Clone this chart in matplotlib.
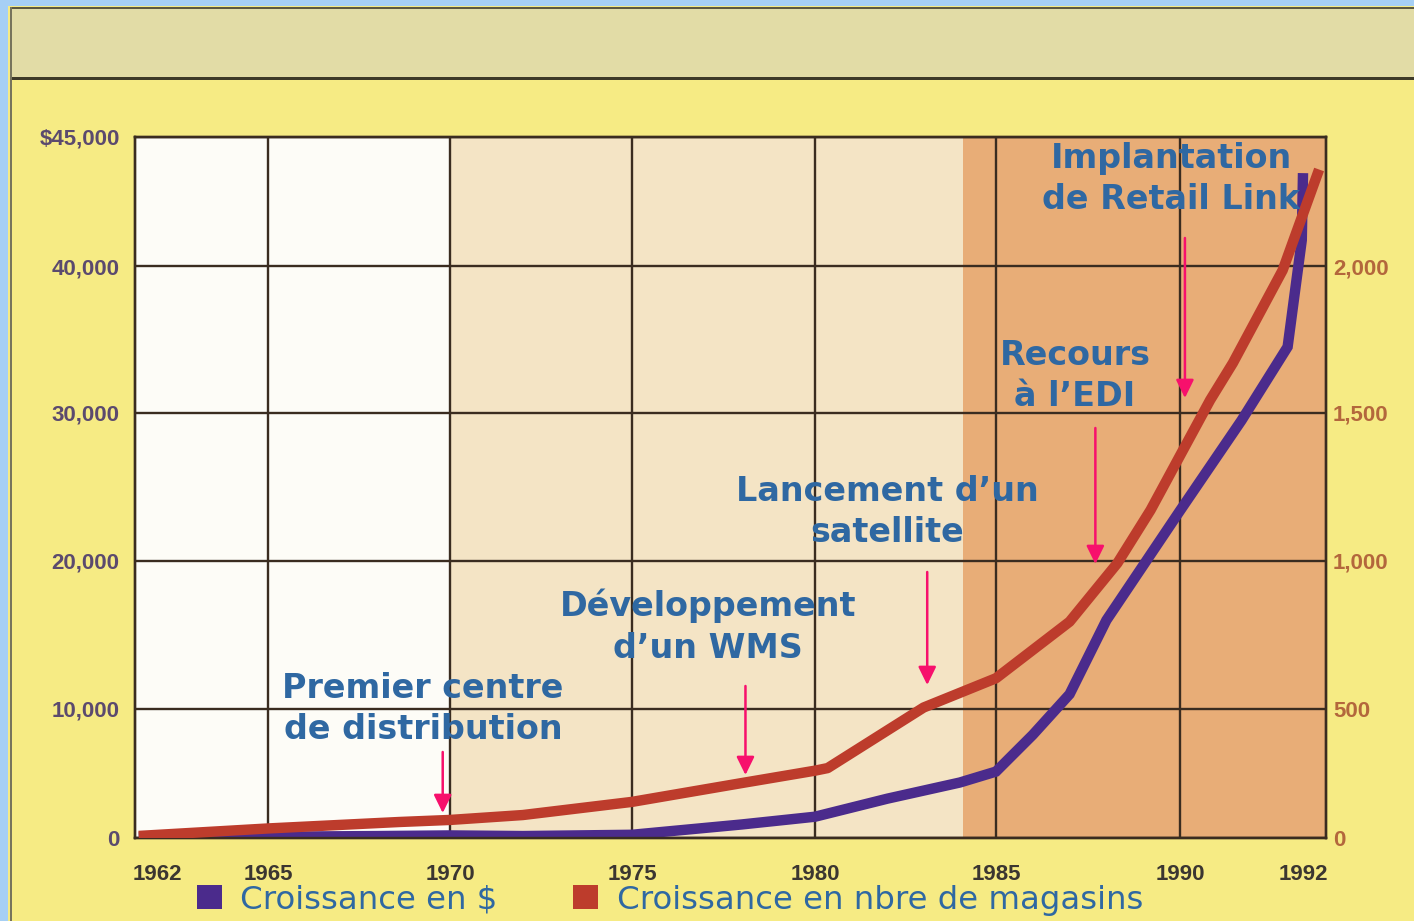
import numpy as np
import matplotlib
matplotlib.use("Agg")
import matplotlib.pyplot as plt
from matplotlib.patches import Rectangle, Patch

# ---------------- data ----------------
sales_years = [1961.5, 1965, 1968, 1970, 1972, 1975, 1978, 1980, 1982, 1984, 1985,
               1986, 1987, 1988, 1989, 1990, 1991, 1991.75, 1991.98, 1992.0]
sales_musd = [50, 100, 150, 200, 150, 250, 1050, 1650, 3050, 4300, 5150,
              8000, 11000, 16000, 19700, 23400, 29500, 34500, 41000, 43600]

store_years = [1961.5, 1965, 1968.6, 1970, 1972, 1975, 1978, 1980, 1980.35, 1983,
               1985, 1987, 1988.3, 1989.2, 1990.05, 1990.49, 1990.86, 1991.67, 1992.28]
store_counts = [8, 37, 62, 70, 89, 140, 213, 261, 271, 505,
                604, 795, 993, 1172, 1375, 1544, 1670, 1986, 2187]

year_ticks = [1962, 1965, 1970, 1975, 1980, 1985, 1990, 1992]
grid_years = [1965, 1970, 1975, 1980, 1985, 1990]
left_ticks = [0, 10000, 20000, 30000, 40000, 45000]
left_labels = ["0", "10,000", "20,000", "30,000", "40,000", "$45,000"]
right_ticks = [0, 500, 1000, 1500, 2000]
right_labels = ["0", "500", "1,000", "1,500", "2,000"]
series_names = ["Croissance en $", "Croissance en nbre de magasins"]

events = ["Premier centre\nde distribution", "Développement\nd’un WMS",
          "Lancement d’un\nsatellite", "Recours\nà l’EDI", "Implantation\nde Retail Link"]
event_years = [1969.8, 1978.1, 1983.1, 1987.7, 1990.08]
period_bounds = [1961.4, 1970, 1984.1, 1992.4]

# ---------------- layout / style ----------------
W, H = 1414, 921
YELLOW = "#f6eb84"
BAND = "#e2dca6"
BLUE_FRAME = "#a6cff4"
PURPLE = "#4b2b8c"
RED = "#bd3c2c"
GRID = "#3a2c20"
TXT_BLUE = "#2f68a2"
PINK = "#f7106c"
period_colors = ["#fdfcf7", "#f4e4c5", "#e8ad77"]

# piecewise axis mappings (the printed chart's axes are not evenly spaced)
x_knots = [1961.4, 1965, 1970, 1975, 1980, 1985, 1990, 1992, 1992.4]
x_pix = [135, 268, 450, 632, 815, 996, 1180, 1303, 1326]
yd_knots = [0, 10000, 20000, 30000, 40000, 45000]
ys_knots = [0, 500, 1000, 1500, 2000, 2250]
y_pix = [838, 709, 561, 413, 266, 137]


def piecewise(kin, kout):
    ki = np.asarray(kin, float)
    ko = np.asarray(kout, float)
    s0 = (ko[1] - ko[0]) / (ki[1] - ki[0])
    s1 = (ko[-1] - ko[-2]) / (ki[-1] - ki[-2])

    def f(v):
        v = np.asarray(v, float)
        out = np.interp(v, ki, ko)
        out = np.where(v < ki[0], ko[0] + (v - ki[0]) * s0, out)
        out = np.where(v > ki[-1], ko[-1] + (v - ki[-1]) * s1, out)
        return out
    return f


xp = [float(p) for p in x_pix]
yp = [838.0 - p for p in y_pix]
x_fwd, x_inv = piecewise(x_knots, xp), piecewise(xp, x_knots)
yd_fwd, yd_inv = piecewise(yd_knots, yp), piecewise(yp, yd_knots)
ys_fwd, ys_inv = piecewise(ys_knots, yp), piecewise(yp, ys_knots)

fig = plt.figure(figsize=(W / 100, H / 100), dpi=100, facecolor=YELLOW)


def frect(x0, y0, x1, y1, color, z=0):
    fig.patches.append(Rectangle((x0 / W, 1 - y1 / H), (x1 - x0) / W, (y1 - y0) / H,
                                 transform=fig.transFigure, facecolor=color,
                                 edgecolor="none", zorder=z))


# frame decorations
frect(0, 0, W, 6, BLUE_FRAME)
frect(0, 0, 8, H, BLUE_FRAME)
frect(10, 8, W, 79, BAND)
frect(10, 7, W, 9, "#5c5840")
frect(10, 77, W, 80, "#3e3a28")
frect(10, 7, 12, H, "#77745c")

ax = fig.add_axes([135 / W, 1 - 838 / H, (1326 - 135) / W, (838 - 137) / H])
ax.set_xscale("function", functions=(x_fwd, x_inv))
ax.set_yscale("function", functions=(yd_fwd, yd_inv))
ax.set_xlim(period_bounds[0], period_bounds[-1])
ax.set_ylim(0, 45000)

for i in range(3):
    ax.axvspan(period_bounds[i], period_bounds[i + 1], color=period_colors[i], lw=0, zorder=0)

for gy in grid_years:
    ax.axvline(gy, color=GRID, lw=1.7, zorder=1)
for t in left_ticks:
    ax.axhline(t, color=GRID, lw=1.7, zorder=1)

ax.plot(sales_years, sales_musd, color=PURPLE, lw=7.5, solid_joinstyle="miter",
        solid_capstyle="butt", zorder=3)

ax.set_xticks(year_ticks)
ax.set_xticklabels([str(y) for y in year_ticks])
ax.set_yticks(left_ticks)
ax.set_yticklabels(left_labels)
ax.tick_params(axis="x", length=0, pad=19, labelsize=16, labelcolor="#3b3631")
ax.tick_params(axis="y", length=0, pad=11, labelsize=16, labelcolor="#5b4a6e")
for lab in ax.get_xticklabels() + ax.get_yticklabels():
    lab.set_fontfamily("Liberation Sans")
    lab.set_fontweight("bold")
for s in ax.spines.values():
    s.set_color(GRID)
    s.set_linewidth(1.7)

ax2 = ax.twinx()
ax2.set_yscale("function", functions=(ys_fwd, ys_inv))
ax2.set_ylim(0, 2250)
ax2.plot(store_years, store_counts, color=RED, lw=7.5, solid_joinstyle="round",
         solid_capstyle="butt", zorder=3)
ax2.set_yticks(right_ticks)
ax2.set_yticklabels(right_labels)
ax2.tick_params(axis="y", length=0, pad=5, labelsize=16, labelcolor="#b3673c")
for lab in ax2.get_yticklabels():
    lab.set_fontfamily("Liberation Sans")
    lab.set_fontweight("bold")
for s in ax2.spines.values():
    s.set_color(GRID)
    s.set_linewidth(1.7)

# annotations
label_pos = [(423, 709), (708, 627), (887, 512), (1075, 376), (1171, 179)]
arrow_y = [(752, 813), (686, 775), (572, 685), (428, 564), (238, 398)]
for txt, (lx, ly) in zip(events, label_pos):
    fig.text(lx / W, 1 - ly / H, txt, ha="center", va="center", multialignment="center",
             fontsize=24, fontweight="bold", color=TXT_BLUE, family="DejaVu Sans",
             linespacing=1.33, zorder=10)
for yr, (y0, y1) in zip(event_years, arrow_y):
    ax2.annotate("", xy=(yr, 1 - y1 / H), xycoords=("data", "figure fraction"),
                 xytext=(yr, 1 - y0 / H), textcoords=("data", "figure fraction"),
                 arrowprops=dict(arrowstyle="-|>,head_length=0.55,head_width=0.27",
                                 color=PINK, lw=1.8, shrinkA=0, shrinkB=0,
                                 mutation_scale=20), zorder=10)

# legend
handles = [Patch(facecolor=PURPLE, edgecolor="none"), Patch(facecolor=RED, edgecolor="none")]
fig.legend(handles, series_names, loc="center left", bbox_to_anchor=(197 / W, 1 - 900 / H),
           ncol=2, frameon=False, prop={"family": "DejaVu Sans", "size": 23.3},
           labelcolor=TXT_BLUE, handlelength=0.77, handleheight=0.77, handletextpad=0.56,
           columnspacing=2.35, borderpad=0, borderaxespad=0)

fig.savefig("out.png", dpi=100, facecolor=YELLOW)
